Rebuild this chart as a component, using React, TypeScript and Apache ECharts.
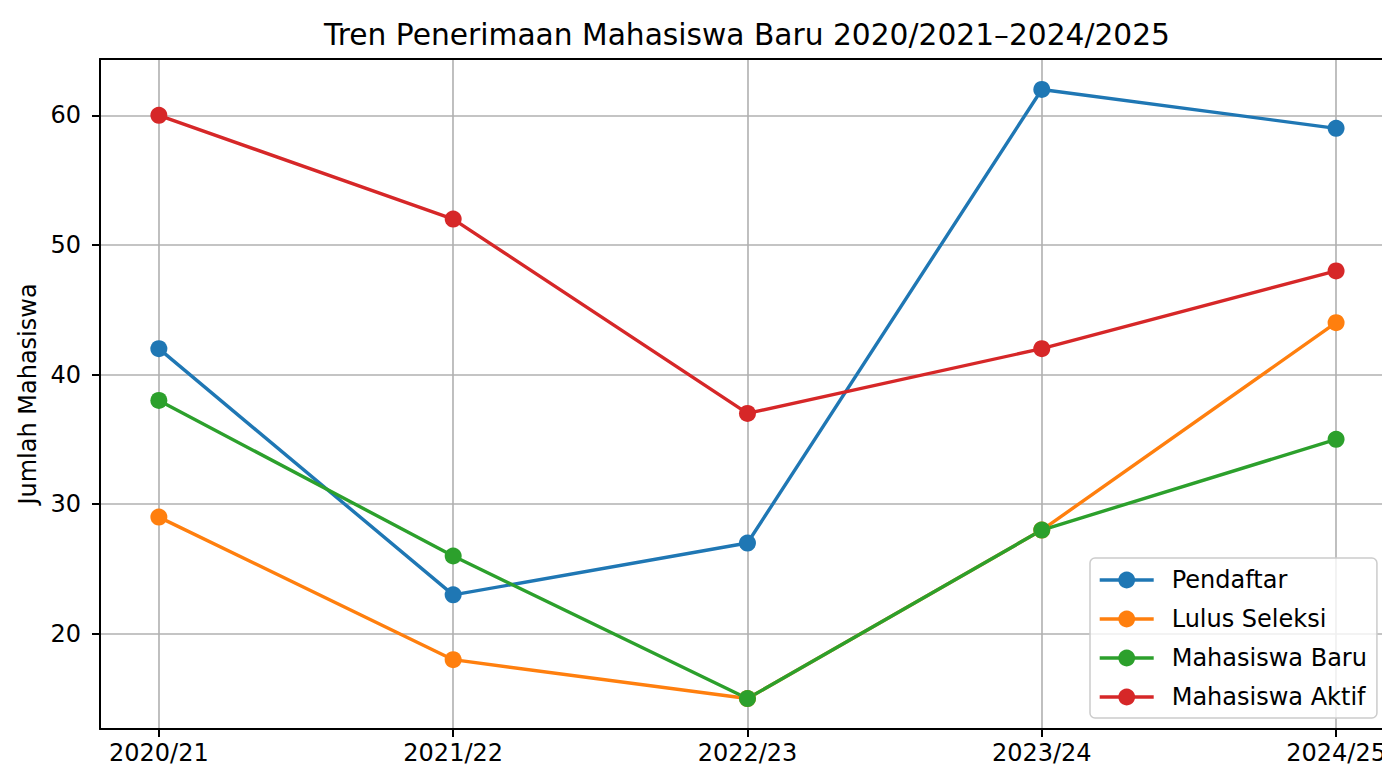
import React, { useEffect, useRef } from "react";
import * as echarts from "echarts";

const categories = ["2020/21", "2021/22", "2022/23", "2023/24", "2024/25"];
const pendaftar = [42, 23, 27, 62, 59];
const lulusSeleksi = [29, 18, 15, 28, 44];
const mahasiswaBaru = [38, 26, 15, 28, 35];
const mahasiswaAktif = [60, 52, 37, 42, 48];
const yTicks = [20, 30, 40, 50, 60];
const xTicks = [0, 1, 2, 3, 4];

const FONT = "DejaVu Sans";

export default function App() {
  const ref = useRef<HTMLDivElement>(null);
  useEffect(() => {
    document.body.style.margin = "0";
    if (!ref.current) return;
    const chart = echarts.init(ref.current, null, { renderer: "svg" });
    const mk = (name: string, vals: number[], color: string) => ({
      name,
      type: "line",
      data: vals.map((v, i) => [i, v]),
      symbol: "circle",
      symbolSize: 17,
      showSymbol: true,
      color,
      itemStyle: { color },
      lineStyle: { color, width: 3.4 },
      emphasis: { disabled: true },
    });
    chart.setOption({
      animation: false,
      textStyle: { fontFamily: FONT },
      graphic: [
        {
          type: "text",
          x: 747,
          y: 34,
          style: {
            text: "Tren Penerimaan Mahasiswa Baru 2020/2021–2024/2025",
            font: `29.7px '${FONT}'`,
            fill: "#000",
            textAlign: "center",
            textVerticalAlign: "middle",
          },
        },
      ],
      grid: { left: 100, right: 0, top: 59, bottom: 40, containLabel: false, outerBoundsMode: "none" },
      legend: {
        orient: "vertical",
        left: 1090,
        top: 558,
        padding: [10, 10, 9, 8],
        itemWidth: 54,
        itemHeight: 21,
        itemGap: 15,
        lineStyle: { width: 3.4 },
        backgroundColor: "rgba(255,255,255,0.8)",
        borderColor: "#cccccc",
        borderWidth: 1.5,
        borderRadius: 5,
        textStyle: {
          fontFamily: FONT,
          fontSize: 24,
          lineHeight: 24,
          color: "#000",
          padding: [0, 0, 0, 13],
        },
        data: ["Pendaftar", "Lulus Seleksi", "Mahasiswa Baru", "Mahasiswa Aktif"],
      },
      xAxis: [
        {
          type: "value",
          min: -0.2,
          max: 4.156,
          position: "bottom",
          axisLine: { show: true, onZero: false, lineStyle: { color: "#000", width: 2 } },
          axisTick: { show: true, customValues: xTicks, length: 8, lineStyle: { color: "#000", width: 2 } },
          axisLabel: {
            customValues: xTicks,
            formatter: (v: number) => categories[Math.round(v)] ?? "",
            fontFamily: FONT,
            fontSize: 24,
            color: "#000",
            margin: 12,
          },
          splitLine: { show: true, lineStyle: { color: "#b0b0b0", width: 1.6 } },
        },
        {
          type: "value",
          min: -0.2,
          max: 4.156,
          position: "top",
          axisLine: { show: true, onZero: false, lineStyle: { color: "#000", width: 2 } },
          axisTick: { show: false },
          axisLabel: { show: false },
          splitLine: { show: false },
        },
      ],
      yAxis: {
        type: "value",
        min: 12.65,
        max: 64.35,
        name: "Jumlah Mahasiswa",
        nameLocation: "middle",
        nameGap: 60,
        nameTextStyle: { fontFamily: FONT, fontSize: 24, color: "#000" },
        axisLine: { show: true, onZero: false, lineStyle: { color: "#000", width: 2 } },
        axisTick: { show: true, customValues: yTicks, length: 8, lineStyle: { color: "#000", width: 2 } },
        axisLabel: {
          customValues: yTicks,
          fontFamily: FONT,
          fontSize: 24,
          color: "#000",
          margin: 19,
        },
        splitLine: { show: true, lineStyle: { color: "#b0b0b0", width: 1.6 } },
      },
      series: [
        mk("Pendaftar", pendaftar, "#1f77b4"),
        mk("Lulus Seleksi", lulusSeleksi, "#ff7f0e"),
        mk("Mahasiswa Baru", mahasiswaBaru, "#2ca02c"),
        mk("Mahasiswa Aktif", mahasiswaAktif, "#d62728"),
      ],
    });
    return () => chart.dispose();
  }, []);
  return <div ref={ref} style={{ width: 1382, height: 769 }} />;
}
